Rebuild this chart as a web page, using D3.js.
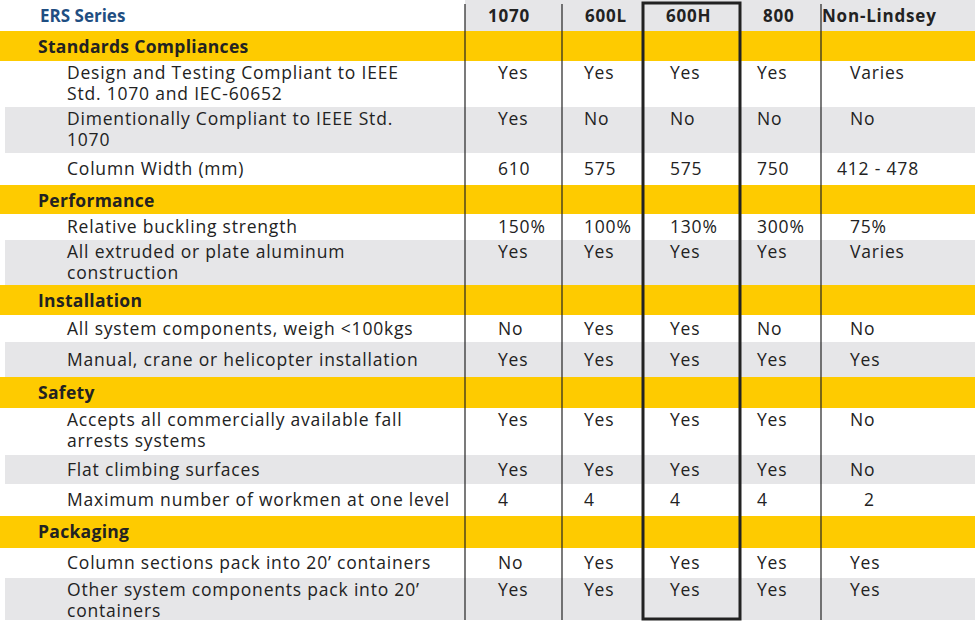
<!DOCTYPE html>
<html><head><meta charset="utf-8">
<script src="https://cdn.jsdelivr.net/npm/d3@7"></script>
<style>body{margin:0;background:#fff}svg{display:block}text{font-family:"Open Sans",sans-serif}</style>
</head><body><div id="chart"></div>
<script>
var series = ["1070", "600L", "600H", "800", "Non-Lindsey"];
var sections = ["Standards Compliances", "Performance", "Installation", "Safety", "Packaging"];
var labels = [
  ["Design and Testing Compliant to IEEE", "Std. 1070 and IEC-60652"],
  ["Dimentionally Compliant to IEEE Std.", "1070"],
  ["Column Width (mm)"],
  ["Relative buckling strength"],
  ["All extruded or plate aluminum", "construction"],
  ["All system components, weigh <100kgs"],
  ["Manual, crane or helicopter installation"],
  ["Accepts all commercially available fall", "arrests systems"],
  ["Flat climbing surfaces"],
  ["Maximum number of workmen at one level"],
  ["Column sections pack into 20\u2019 containers"],
  ["Other system components pack into 20\u2019", "containers"]
];
var values = [
  ["Yes", "Yes", "Yes", "Yes", "Varies"],
  ["Yes", "No", "No", "No", "No"],
  ["610", "575", "575", "750", "412 - 478"],
  ["150%", "100%", "130%", "300%", "75%"],
  ["Yes", "Yes", "Yes", "Yes", "Varies"],
  ["No", "Yes", "Yes", "No", "No"],
  ["Yes", "Yes", "Yes", "Yes", "Yes"],
  ["Yes", "Yes", "Yes", "Yes", "No"],
  ["Yes", "Yes", "Yes", "Yes", "No"],
  ["4", "4", "4", "4", "2"],
  ["No", "Yes", "Yes", "Yes", "Yes"],
  ["Yes", "Yes", "Yes", "Yes", "Yes"]
];
var sectionOf = [0, 0, 0, 1, 1, 2, 2, 3, 3, 3, 4, 4];

// layout
var W = 975, H = 622;
var colEdges = [465, 562, 643, 740, 821, 975];
var textX = [498, 584, 670, 757, 850];
var rowBounds = [0, 31, 61, 107, 153, 185, 214, 240, 285, 315, 342, 377, 408, 455, 484, 516, 548, 578, 620];

var rows = [{type: "head"}];
sections.forEach(function(s, si) {
  rows.push({type: "section", label: s});
  var n = 0;
  labels.forEach(function(l, i) {
    if (sectionOf[i] == si) {
      rows.push({type: "item", label: l, vals: values[i], alt: n % 2 == 1});
      n++;
    }
  });
});
rows.forEach(function(r, i) { r.y0 = rowBounds[i]; r.y1 = rowBounds[i + 1]; });

var svg = d3.select("#chart").append("svg").attr("width", W).attr("height", H);

svg.selectAll("rect.row").data(rows).enter().append("rect")
  .attr("x", d => d.type == "head" ? colEdges[0] : d.type == "section" ? 0 : 5)
  .attr("y", d => d.y0)
  .attr("width", d => d.type == "head" ? W - colEdges[0] : W)
  .attr("height", d => d.y1 - d.y0)
  .attr("fill", d => d.type == "section" ? "#fecb00" : (d.type == "head" || d.alt) ? "#e6e6e8" : "#fff");

// vertical lines
svg.selectAll("line.v").data(colEdges.slice(0, 5)).enter().append("line")
  .attr("x1", d => d).attr("x2", d => d).attr("y1", 4).attr("y2", 620)
  .attr("stroke", "#222").attr("stroke-width", 1.2);
svg.append("rect").attr("x", colEdges[2]).attr("y", 3)
  .attr("width", colEdges[3] - colEdges[2]).attr("height", 616)
  .attr("fill", "none").attr("stroke", "#222").attr("stroke-width", 3);

svg.append("text").attr("x", 40).attr("y", 22).text("ERS Series")
  .attr("font-size", 17).attr("font-weight", "bold").attr("fill", "#1f4e82");
svg.selectAll("text.hd").data(series).enter().append("text")
  .attr("x", (d, i) => i == 4 ? 822 : colEdges[i] + 23).attr("y", 22).text(d => d)
  .attr("font-size", 17).attr("letter-spacing", 0.8).attr("font-weight", "bold").attr("fill", "#222");

svg.selectAll("text.sec").data(rows.filter(d => d.type == "section")).enter().append("text")
  .attr("x", 38).attr("y", d => d.y0 + 22).text(d => d.label)
  .attr("font-size", 17.5).attr("letter-spacing", 0.3).attr("font-weight", "bold").attr("fill", "#222");

var items = rows.filter(d => d.type == "item");
var g = svg.selectAll("g.item").data(items).enter().append("g");
g.each(function(d) {
  var sel = d3.select(this);
  var single = d.label.length == 1;
  var baseY = single ? (d.y0 + d.y1) / 2 + 6 : d.y0 + 18;
  d.label.forEach(function(l, j) {
    sel.append("text").attr("x", 67).attr("y", baseY + j * 21).text(l)
      .attr("font-size", 17.5).attr("letter-spacing", 0.8).attr("fill", "#222");
  });
  d.vals.forEach(function(v, j) {
    sel.append("text").attr("x", textX[j] + (v == "412 - 478" ? -13 : v == "2" ? 14 : 0))
      .attr("y", baseY).text(v).attr("font-size", 17.5).attr("letter-spacing", 0.8).attr("fill", "#222");
  });
});
</script></body></html>
